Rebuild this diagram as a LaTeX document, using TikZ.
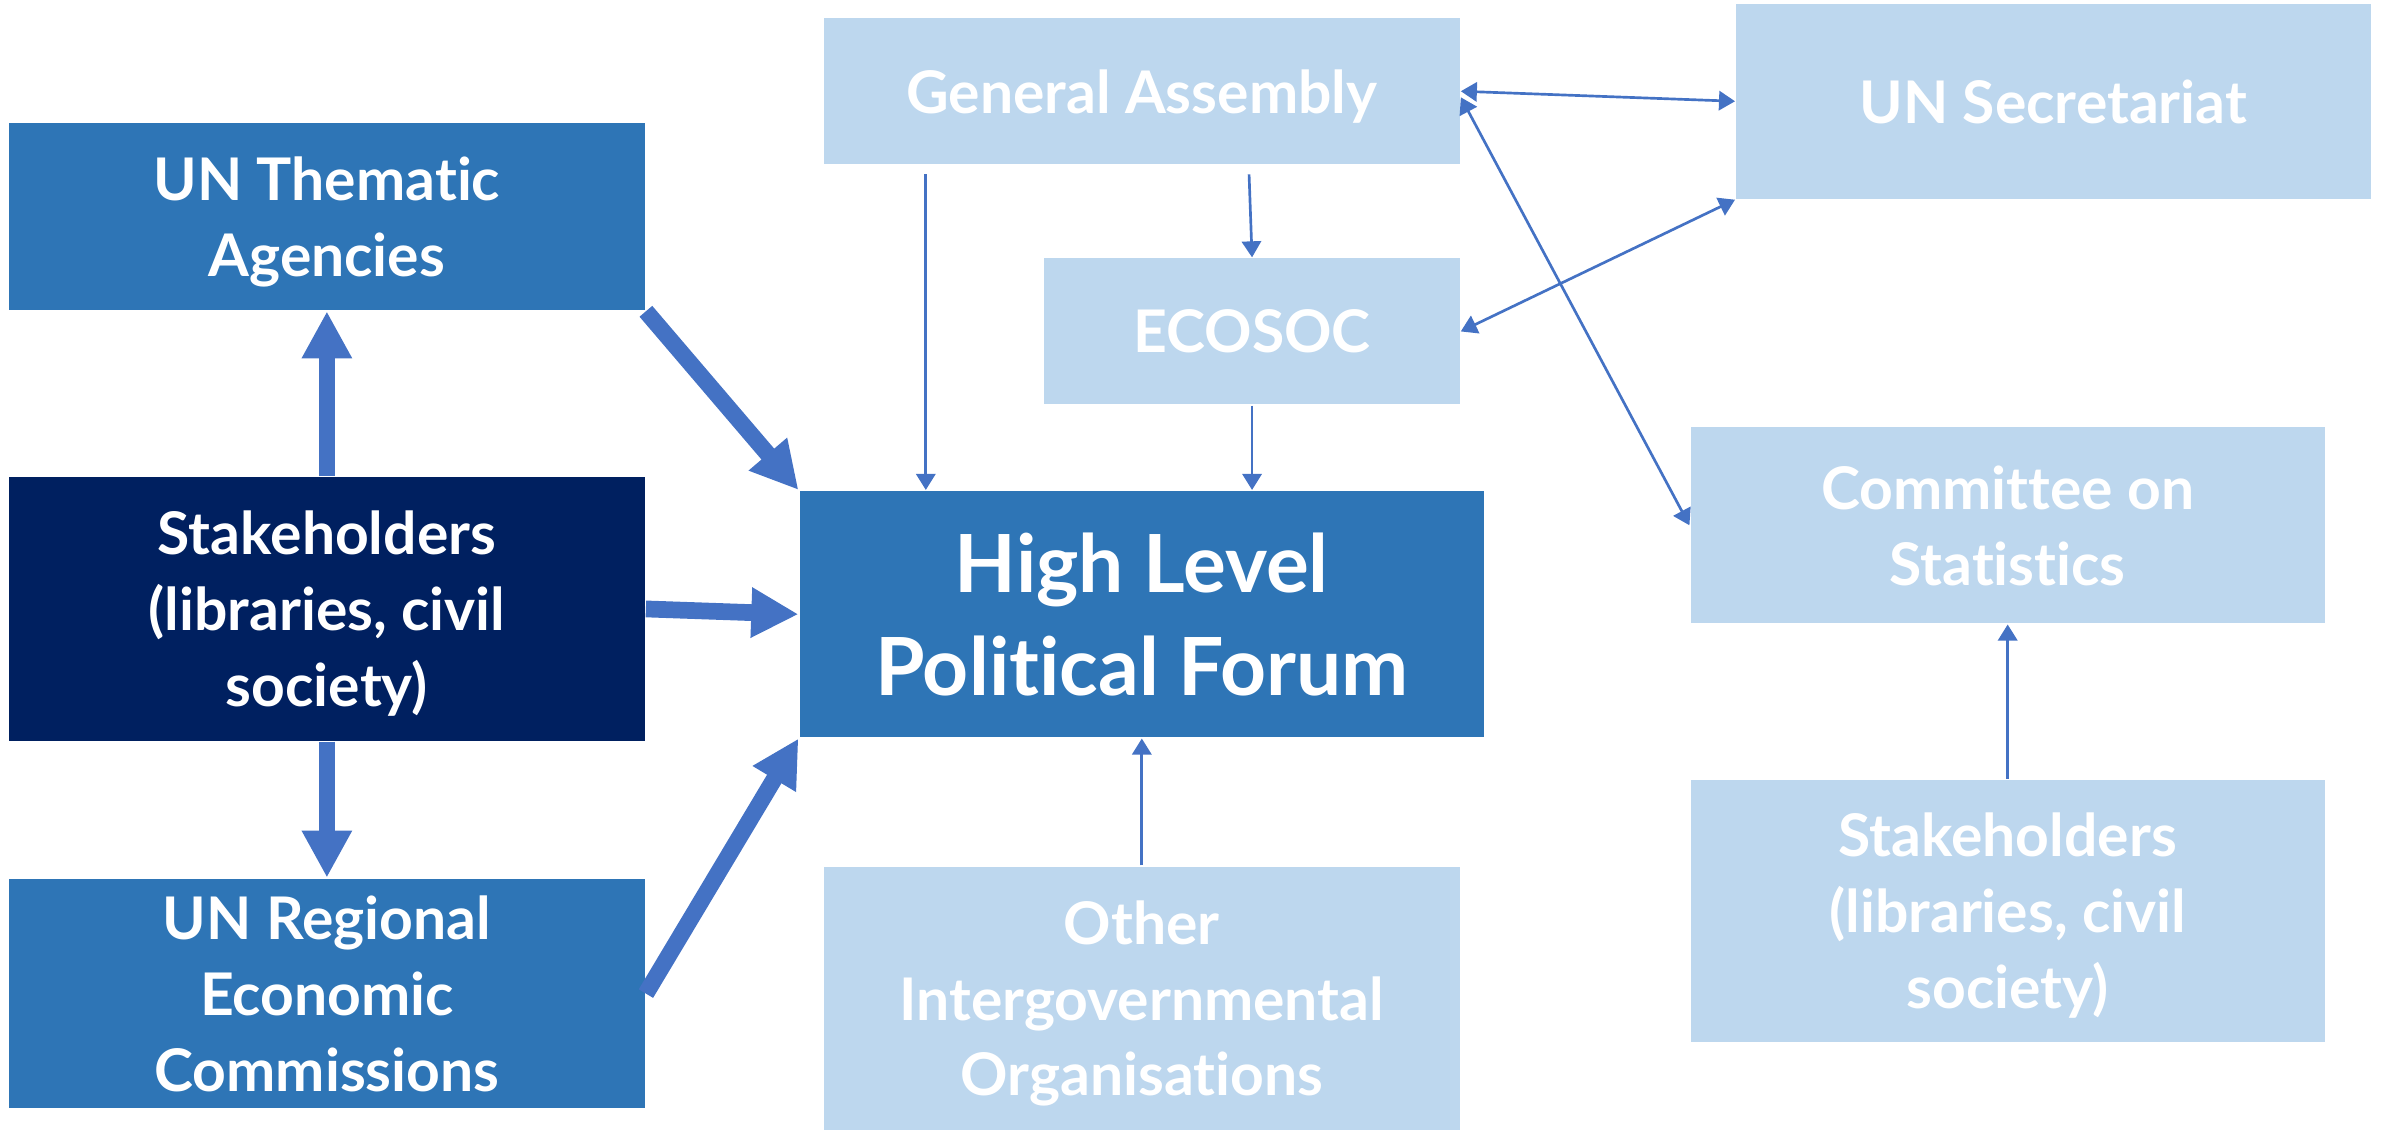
\documentclass[tikz,border=0pt]{standalone}
\usepackage{fontspec}
\setmainfont{Lato}[Ligatures={NoCommon}]
\usepackage{xcolor}
\usetikzlibrary{arrows.meta,positioning}
\definecolor{midblue}{HTML}{2E75B6}
\definecolor{darkblue}{HTML}{002060}
\definecolor{paleblue}{HTML}{BDD7EE}
\definecolor{linkblue}{HTML}{4472C4}
\tikzset{basic/.style={draw=none,text=white,align=center,inner sep=0pt,text depth=0pt,
                       font=\bfseries\fontsize{11}{14.2}\selectfont}}
\tikzset{agency/.style={basic,fill=midblue}}
\tikzset{stake/.style={basic,fill=darkblue}}
\tikzset{organ/.style={basic,fill=paleblue}}
\tikzset{thicklink/.style={draw=linkblue,line width=0.11cm,
                           -{Triangle[width=0.31cm,length=0.31cm]}}}
\tikzset{thinlink/.style={draw=linkblue,line width=0.5pt,
                          -{Triangle[width=3.6pt,length=3pt]}}}
\tikzset{thinboth/.style={thinlink,{Triangle[width=3.6pt,length=3pt]}-{Triangle[width=3.6pt,length=3pt]}}}

\begin{document}
\begin{tikzpicture}[x=0.01cm,y=-0.01cm]
    \useasboundingbox (0,0) rectangle (1568,742.6);
    % Draw left column
    \node[agency, minimum width=4.18cm, minimum height=1.23cm] (thematic) at (215,142.5) {UN Thematic\\Agencies};
    \node[stake, minimum width=4.18cm, minimum height=1.73cm] (stake) at (215,400.5) {Stakeholders\\(libraries, civil\\society)};
    \node[agency, minimum width=4.18cm, minimum height=1.51cm] (regional) at (215,653.5) {UN Regional\\Economic\\Commissions};
    % Draw middle column
    \node[organ, minimum width=4.18cm, minimum height=0.96cm] (ga) at (751,60) {General Assembly};
    \node[organ, minimum width=2.73cm, minimum height=0.96cm] (ecosoc) at (823.5,218) {ECOSOC};
    \node[agency, minimum width=4.50cm, minimum height=1.62cm,
          font=\bfseries\fontsize{15}{19.3}\selectfont] (hlpf) at (751,404) {High Level\\Political Forum};
    \node[organ, minimum width=4.18cm, minimum height=1.73cm] (igo) at (751,656.5) {Other\\Intergovernmental\\Organisations};
    % Draw right column
    \node[organ, minimum width=4.17cm, minimum height=1.28cm] (secretariat) at (1350.5,66.6) {UN Secretariat};
    \node[organ, minimum width=4.17cm, minimum height=1.29cm] (stats) at (1320.5,345.5) {Committee on\\Statistics};
    \node[organ, minimum width=4.17cm, minimum height=1.72cm] (stakeR) at (1320.5,599) {Stakeholders\\(libraries, civil\\society)};
    % Thick edges from the left column
    \draw[thicklink] (stake.north) -- (thematic.south);
    \draw[thicklink] (stake.south) -- (regional.north);
    \draw[thicklink] (thematic.south east) -- (hlpf.north west);
    \draw[thicklink] (stake.east) -- (hlpf.west);
    \draw[thicklink] (regional.east) -- (hlpf.south west);
    % Thin edges into the forum
    \draw[thinlink] ([xshift=-1.42cm,yshift=-0.06cm]ga.south) -- ([xshift=-1.42cm]ga.south |- hlpf.north);
    \draw[thinlink] ([xshift=0.705cm,yshift=-0.06cm]ga.south) -- (ecosoc.north);
    \draw[thinlink] (ecosoc.south) -- (ecosoc.south |- hlpf.north);
    \draw[thinlink] (igo.north) -- (igo.north |- hlpf.south);
    % Links on the right
    \draw[thinboth] (ga.east) -- (secretariat.west);
    \draw[thinboth] ([yshift=-0.04cm]ga.east) -- (stats.west);
    \draw[thinboth] (ecosoc.east) -- (secretariat.south west);
    \draw[thinlink] (stakeR.north) -- (stats.south);
\end{tikzpicture}
\end{document}
